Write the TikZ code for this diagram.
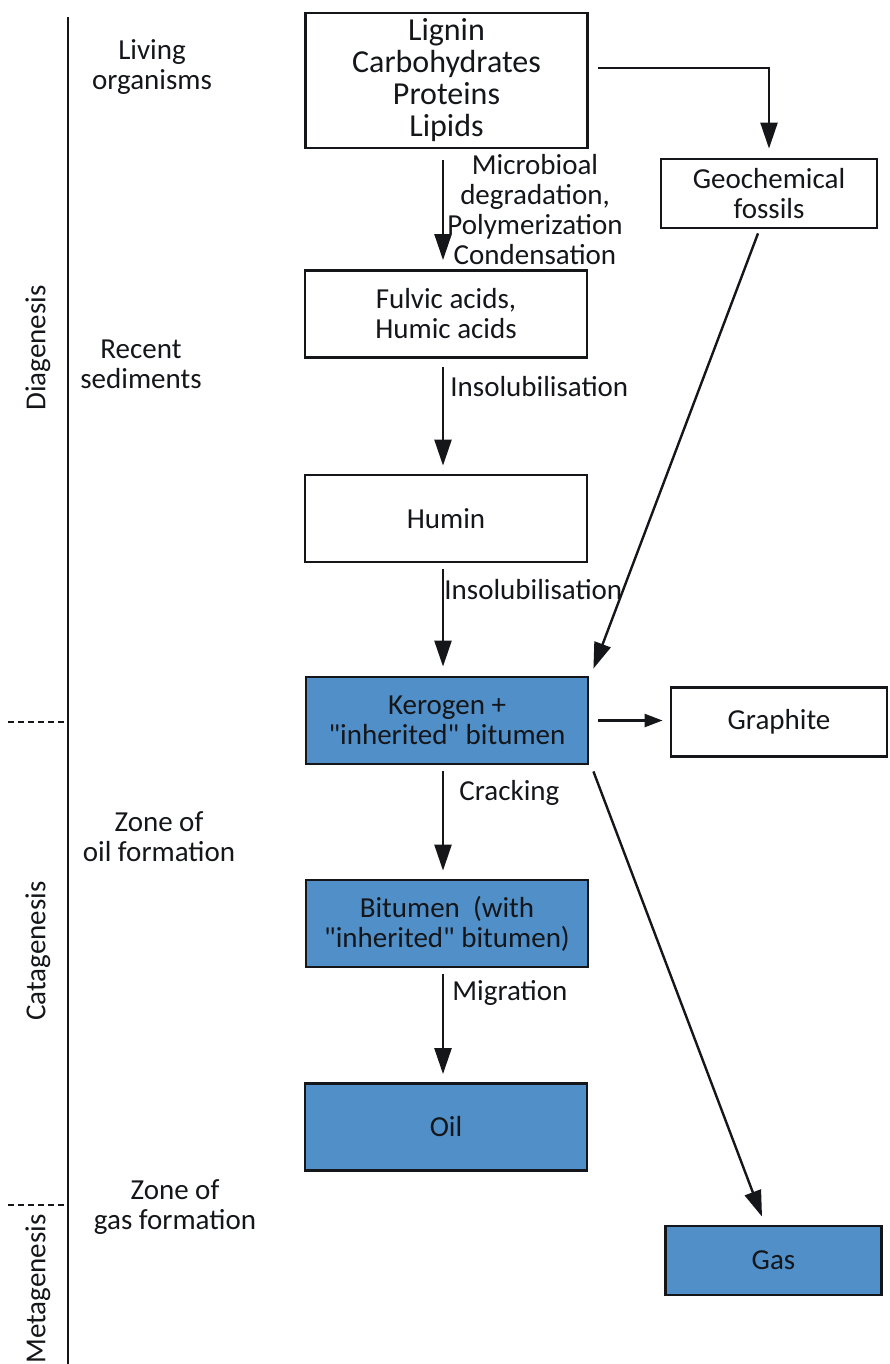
\documentclass[tikz,border=0pt]{standalone}
\usepackage{fontspec}
\setmainfont{Carlito}[Ligatures=TeXOff]
\usetikzlibrary{arrows.meta,calc}
\definecolor{boxblue}{RGB}{80,143,199}
\definecolor{ink}{RGB}{20,22,26}
\newcommand{\dq}{\symbol{"22}}
\begin{document}
\begin{tikzpicture}[x=0.5pt,y=-0.5pt,
  every node/.style={text=ink},
  box/.style={draw=ink,line width=1.4pt,minimum width=141pt,minimum height=43.5pt,inner sep=0pt,align=center,font=\fontsize{14.5}{15}\selectfont},
  sbox/.style={box,minimum width=108pt,minimum height=34.5pt},
  lbl/.style={inner sep=0pt,align=center,font=\fontsize{14.5}{15}\selectfont},
  arr/.style={draw=ink,line width=1.2pt,-{Triangle[length=13pt,width=8.5pt]}},
  arrsmall/.style={draw=ink,line width=1.2pt,-{Triangle[length=9pt,width=6.5pt]}},
  axisline/.style={draw=ink,line width=1.3pt},
  dashline/.style={draw=ink,line width=1.1pt,dash pattern=on 3pt off 2pt}]
\useasboundingbox (0,0) rectangle (889,1364);

% time axis
\coordinate (vt) at (68,17);
\coordinate (vb) at (68,1364);
\draw[axisline] (vt) -- (vb);
\coordinate (da1) at (8,722);
\coordinate (da2) at (8,1205);
\draw[dashline] (da1) -- (da1 -| vt);
\draw[dashline] (da2) -- (da2 -| vt);

\node[lbl,rotate=90] (d1) at (38,348) {Diagenesis};
\node[lbl,rotate=90] (d2) at (38,951) {Catagenesis};
\node[lbl,rotate=90] (d3) at (38,1289) {Metagenesis};

\node[lbl] (s1) at (152,67) {Living\\organisms};
\node[lbl] (s2) at (141,364) {Recent\\sediments};
\node[lbl] (s3) at (159,837) {Zone of\\oil formation};
\node[lbl] (s4) at (175,1207) {Zone of\\gas formation};

% boxes
\node[box,minimum height=67.5pt,font=\fontsize{16}{16}\selectfont] (top) at (446.5,80.5) {Lignin\\Carbohydrates\\Proteins\\Lipids};
\node[box] (fulv) at (446,314) {Fulvic acids,\\Humic acids};
\node[box] (humin) at (446,518.5) {Humin};
\node[box,fill=boxblue] (kero) at (447,720.5) {Kerogen +\\\dq inherited\dq{} bitumen};
\node[box,fill=boxblue] (bit) at (447,923.5) {Bitumen\ \ (with\\\dq inherited\dq{} bitumen)};
\node[box,fill=boxblue] (oil) at (446,1127) {Oil};
\node[sbox] (geo) at (769,193.5) {Geochemical\\fossils};
\node[sbox] (graph) at (779,722) {Graphite};
\node[sbox,fill=boxblue] (gas) at (773.5,1260.5) {Gas};

% vertical arrows
\coordinate (ax) at (443,0);
\draw[arr,shorten <=5.5pt,shorten >=4.5pt] (top.south -| ax) -- (fulv.north -| ax);
\draw[arr,shorten <=4pt,shorten >=4pt] (fulv.south -| ax) -- (humin.north -| ax);
\draw[arr,shorten <=3pt,shorten >=4.5pt] (humin.south -| ax) -- (kero.north -| ax);
\draw[arr,shorten <=3pt,shorten >=4pt] (kero.south -| ax) -- (bit.north -| ax);
\draw[arr,shorten <=3pt,shorten >=4pt] (bit.south -| ax) -- (oil.north -| ax);

% side arrows
\draw[arr,shorten >=4.5pt] ([shift={(9,-12.5)}]top.east) -| (geo.north);
\draw[arr] ([shift={(-11,4)}]geo.south) -- ([shift={(4,-7)}]kero.north east);
\draw[arrsmall,shorten <=4.5pt,shorten >=3.5pt] (kero.east) -- (kero.east -| graph.west);
\draw[arr] ([shift={(4,6)}]kero.south east) -- ([shift={(-11.5,-8)}]gas.north);

% arrow labels
\node[lbl] (l1) at (535,210) {Microbioal\\degradation,\\Polymerization\\Condensation};
\node[lbl,anchor=west] (l2) at (450,387) {Insolubilisation};
\node[lbl,anchor=west] (l3) at (444,590) {Insolubilisation};
\node[lbl,anchor=west] (l4) at (459,793) {Cracking};
\node[lbl,anchor=west] (l5) at (452,993) {Migration};
\end{tikzpicture}
\end{document}
